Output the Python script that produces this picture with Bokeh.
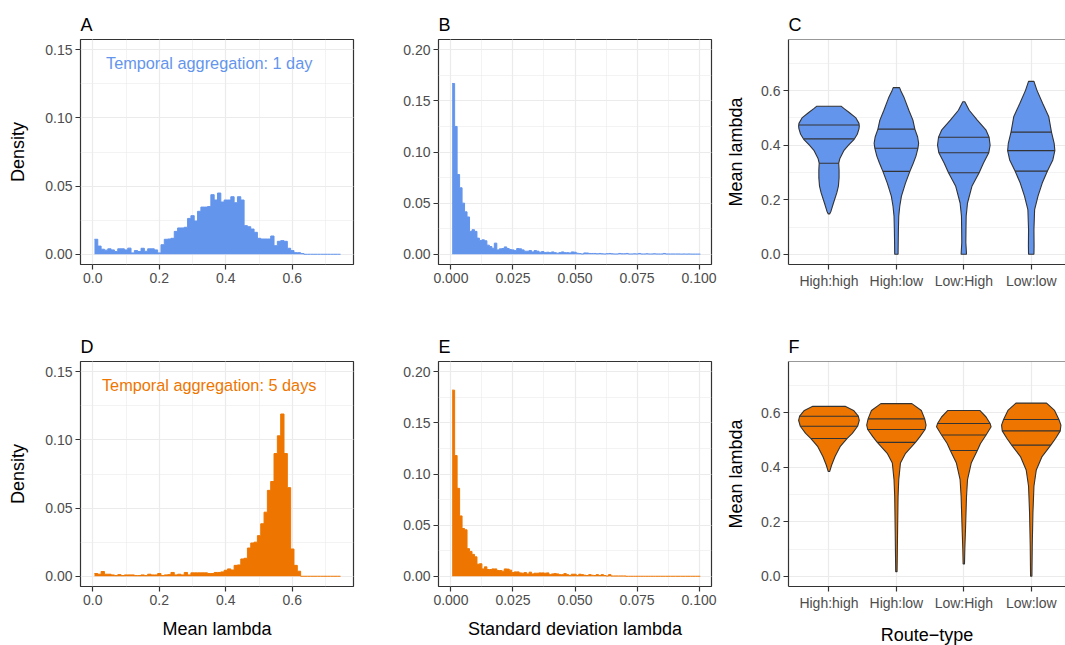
from bokeh.plotting import figure
from bokeh.layouts import column, row
from bokeh.models import (SingleIntervalTicker, FixedTicker, NumeralTickFormatter,
                          Range1d, Span)
from bokeh.embed import file_html
from bokeh.resources import INLINE
from bokeh.core.properties import value

FONT = "Liberation Sans"
BLUE = "#6495ED"
ORANGE = "#EE7600"
DARK = "#333333"

# ---------------- data ----------------
# Mean lambda histograms: bins of width 0.01 starting at 0.005 (centres 0.01 ... 0.74)
MEAN_BIN_START = 0.005
MEAN_BIN_WIDTH = 0.01
mean_density_1day = [
    0.011, 0.006, 0.0037, 0.003, 0.004, 0.0032, 0.002, 0.004, 0.004, 0.0032,
    0.0045, 0.001, 0.0027, 0.002, 0.0044, 0.0022, 0.004, 0.004, 0.0032, 0.001,
    0.007, 0.011, 0.0112, 0.0117, 0.0168, 0.0193, 0.0193, 0.0198, 0.0263, 0.0283,
    0.0244, 0.0315, 0.0346, 0.0346, 0.035, 0.0437, 0.0398, 0.0449, 0.0383, 0.0398,
    0.0398, 0.0422, 0.0378, 0.0422, 0.0398, 0.021, 0.0202, 0.0185, 0.0161, 0.0117,
    0.0112, 0.0112, 0.0112, 0.0134, 0.0063, 0.0095, 0.01, 0.0095, 0.0044, 0.0027,
    0.0012, 0.0012, 0.0005, 0, 0, 0, 0, 0, 0, 0,
    0, 0, 0, 0]
mean_density_5days = [
    0.002, 0.0015, 0.0035, 0.0015, 0.0015, 0.001, 0.0005, 0.0012, 0.0005, 0.001,
    0.001, 0.001, 0.0005, 0.0005, 0.001, 0.0005, 0.0015, 0.001, 0.001, 0.002,
    0.0005, 0.001, 0.0012, 0.0028, 0.001, 0.0015, 0.001, 0.0028, 0.001, 0.0025,
    0.0025, 0.0025, 0.0025, 0.0025, 0.002, 0.002, 0.0028, 0.0028, 0.0032, 0.0044,
    0.0054, 0.0046, 0.008, 0.0083, 0.0127, 0.0132, 0.0207, 0.0244, 0.025, 0.0298,
    0.0385, 0.047, 0.063, 0.0695, 0.09, 0.103, 0.119, 0.09, 0.065, 0.02,
    0.008, 0.0037, 0, 0, 0, 0, 0, 0, 0, 0,
    0, 0, 0, 0]

# Standard deviation lambda histograms: bins of width 0.001 starting at 0.0005
SD_BIN_START = 0.0005
SD_BIN_WIDTH = 0.001
sd_density_1day = [
    0.167, 0.125, 0.078, 0.065, 0.05, 0.0415, 0.0365, 0.0224, 0.024, 0.0224,
    0.0158, 0.0135, 0.0141, 0.0132, 0.0089, 0.0076, 0.0059, 0.0109, 0.0043, 0.0053,
    0.0056, 0.0072, 0.0056, 0.0046, 0.0043, 0.0036, 0.0056, 0.0053, 0.0043, 0.003,
    0.003, 0.0036, 0.0023, 0.0036, 0.003, 0.002, 0.0026, 0.0016, 0.002, 0.0016,
    0.0023, 0.0016, 0.001, 0.0016, 0.0023, 0.0016, 0.0016, 0.0013, 0.0023, 0.002,
    0.001, 0.0007, 0.0003, 0.0013, 0.0012, 0.0008, 0.0008, 0.0008, 0.0005, 0.0008,
    0.0005, 0.0003, 0.0006, 0.0008, 0.0005, 0.0003, 0.0003, 0.0008, 0.0005, 0.0005,
    0.0008, 0.0003, 0.0003, 0.0005, 0.0003, 0.0008, 0.0003, 0.0003, 0.0005, 0.0003,
    0.0003, 0.0005, 0.0003, 0.0003, 0.0003, 0.0008, 0.0003, 0.0003, 0.0003, 0.0003,
    0.0003, 0.0003, 0.0002, 0.0003, 0.0002, 0.0003, 0.0002, 0.0002, 0.0002, 0.0002]
sd_density_5days = [
    0.182, 0.118, 0.086, 0.059, 0.0467, 0.0454, 0.027, 0.0243, 0.0214, 0.019,
    0.0118, 0.0122, 0.0072, 0.0092, 0.0066, 0.0066, 0.0072, 0.0072, 0.0056, 0.0056,
    0.005, 0.0072, 0.007, 0.006, 0.0036, 0.0043, 0.0043, 0.0033, 0.003, 0.0036,
    0.0023, 0.004, 0.0023, 0.003, 0.003, 0.0033, 0.0033, 0.003, 0.0033, 0.0016,
    0.0023, 0.0026, 0.0023, 0.0016, 0.0016, 0.0026, 0.0016, 0.0007, 0.002, 0.002,
    0.0007, 0.002, 0.0016, 0.001, 0.0007, 0.0016, 0.001, 0.0007, 0.0016, 0.0007,
    0.0016, 0.0007, 0.0003, 0.0016, 0.0003, 0.0003, 0.0003, 0.0003, 0.0003, 0.0003,
    0, 0, 0, 0, 0, 0, 0, 0, 0, 0,
    0, 0, 0, 0, 0, 0, 0, 0, 0, 0,
    0, 0, 0, 0, 0, 0, 0, 0, 0, 0]

# Violins: route types, density profiles (y value, half width in category units)
routes = ["High:high", "High:low", "Low:High", "Low:low"]

v1_hh_y = [0.148, 0.158, 0.188, 0.225, 0.25, 0.28, 0.31, 0.334, 0.35, 0.38, 0.40, 0.42, 0.44, 0.46, 0.47, 0.48, 0.50, 0.52, 0.535, 0.543]
v1_hh_w = [0.01, 0.03, 0.067, 0.116, 0.14, 0.15, 0.15, 0.145, 0.16, 0.22, 0.29, 0.37, 0.42, 0.445, 0.45, 0.445, 0.40, 0.30, 0.22, 0.18]
v1_hl_y = [0.0, 0.043, 0.091, 0.14, 0.176, 0.213, 0.261, 0.304, 0.334, 0.36, 0.389, 0.407, 0.43, 0.459, 0.492, 0.528, 0.577, 0.60, 0.611]
v1_hl_w = [0.025, 0.027, 0.03, 0.035, 0.05, 0.075, 0.135, 0.2, 0.25, 0.29, 0.32, 0.33, 0.315, 0.274, 0.245, 0.185, 0.11, 0.065, 0.047]
v1_lh_y = [0.0, 0.043, 0.091, 0.14, 0.188, 0.249, 0.299, 0.334, 0.372, 0.40, 0.429, 0.455, 0.492, 0.528, 0.559]
v1_lh_w = [0.04, 0.03, 0.032, 0.035, 0.055, 0.12, 0.227, 0.29, 0.37, 0.39, 0.375, 0.33, 0.2, 0.08, 0.015]
v1_ll_y = [0.0, 0.03, 0.091, 0.164, 0.213, 0.261, 0.305, 0.346, 0.38, 0.407, 0.448, 0.504, 0.553, 0.601, 0.634]
v1_ll_w = [0.04, 0.042, 0.04, 0.05, 0.1, 0.163, 0.24, 0.32, 0.35, 0.34, 0.30, 0.26, 0.17, 0.085, 0.04]
q1_y = [[0.334, 0.423, 0.474], [0.304, 0.389, 0.459], [0.299, 0.372, 0.429], [0.305, 0.38, 0.448]]
q1_w = [[0.145, 0.37, 0.445], [0.2, 0.32, 0.274], [0.227, 0.37, 0.375], [0.24, 0.35, 0.30]]

v5_hh_y = [0.384, 0.408, 0.439, 0.475, 0.505, 0.524, 0.55, 0.572, 0.587, 0.608, 0.623]
v5_hh_w = [0.01, 0.04, 0.09, 0.165, 0.267, 0.346, 0.425, 0.45, 0.435, 0.365, 0.24]
v5_hl_y = [0.017, 0.172, 0.293, 0.354, 0.415, 0.451, 0.491, 0.512, 0.538, 0.554, 0.577, 0.608, 0.633]
v5_hl_w = [0.01, 0.018, 0.025, 0.035, 0.06, 0.136, 0.283, 0.35, 0.425, 0.44, 0.42, 0.37, 0.23]
v5_lh_y = [0.045, 0.1, 0.172, 0.293, 0.354, 0.415, 0.461, 0.487, 0.518, 0.548, 0.56, 0.584, 0.608]
v5_lh_w = [0.01, 0.015, 0.025, 0.04, 0.055, 0.11, 0.2, 0.247, 0.33, 0.405, 0.39, 0.33, 0.237]
v5_ll_y = [0.0, 0.112, 0.233, 0.33, 0.39, 0.439, 0.481, 0.505, 0.533, 0.554, 0.575, 0.608, 0.635]
v5_ll_w = [0.01, 0.015, 0.025, 0.04, 0.075, 0.16, 0.29, 0.36, 0.43, 0.44, 0.41, 0.346, 0.227]
q5_y = [[0.505, 0.55, 0.587], [0.491, 0.538, 0.577], [0.461, 0.518, 0.56], [0.481, 0.533, 0.575]]
q5_w = [[0.267, 0.425, 0.435], [0.283, 0.425, 0.42], [0.2, 0.33, 0.39], [0.29, 0.43, 0.41]]

# ---------------- helpers ----------------
FRAME_H = 225


def base_fig(letter, fw, mbl, mbr, mbt, mbb, xr, yr):
    p = figure(frame_width=fw, frame_height=FRAME_H,
               min_border_left=mbl, min_border_right=mbr,
               min_border_top=mbt, min_border_bottom=mbb,
               x_range=Range1d(*xr), y_range=Range1d(*yr),
               output_backend="svg", toolbar_location=None, title=letter)
    p.background_fill_color = "white"
    p.border_fill_color = "white"
    p.outline_line_color = DARK
    p.outline_line_width = 1.2
    p.title.text_font = FONT
    p.title.text_font_size = "18px"
    p.title.text_font_style = "normal"
    p.title.text_color = "black"
    p.title.align = "left"
    p.title.standoff = 10
    for ax in p.axis:
        ax.axis_line_color = None
        ax.major_tick_line_color = DARK
        ax.major_tick_line_width = 1.2
        ax.major_tick_out = 5
        ax.major_tick_in = 0
        ax.minor_tick_line_color = None
        ax.major_label_text_font = FONT
        ax.major_label_text_font_size = "14px"
        ax.major_label_text_color = "#4D4D4D"
        ax.major_label_standoff = 3
        ax.axis_label_text_font = FONT
        ax.axis_label_text_font_size = "18px"
        ax.axis_label_text_font_style = "normal"
        ax.axis_label_text_color = "black"
    for g in (p.xgrid[0], p.ygrid[0]):
        g.grid_line_color = "#EBEBEB"
        g.grid_line_width = 1.2
        g.minor_grid_line_color = "#EBEBEB"
        g.minor_grid_line_width = 0.6
    return p


def set_ticks(axis, interval, fmt):
    axis.ticker = SingleIntervalTicker(interval=interval, num_minor_ticks=2)
    axis.formatter = NumeralTickFormatter(format=fmt)


def hist(p, start, width, heights, color):
    # bin edges and a step-shaped filled area (no seams between adjacent bars)
    edges = [start + i * width for i in range(len(heights) + 1)]
    tops = list(heights) + [heights[-1]]
    p.varea_step(x=edges, y1=[0] * len(edges), y2=tops, step_mode="after",
                 fill_color=color)
    p.step(x=edges, y=tops, mode="after", line_color=color, line_width=1.0)


def violin(p, center, ys, ws, qy, qw, color):
    xs = [center + w for w in ws] + [center - w for w in reversed(ws)]
    yy = list(ys) + list(reversed(ys))
    p.patch(xs, yy, fill_color=color, line_color=DARK, line_width=1.1)
    p.segment(x0=[center - w for w in qw], x1=[center + w for w in qw],
              y0=qy, y1=qy, line_color=DARK, line_width=1.1)


def mean_panel(letter, heights, color, label, mbt, mbb, xlabel):
    p = base_fig(letter, 273, 80, 42, mbt, mbb, (-0.037, 0.784), (-0.0075, 0.1575))
    set_ticks(p.xaxis[0], 0.2, "0.0")
    set_ticks(p.yaxis[0], 0.05, "0.00")
    p.yaxis.axis_label = "Density"
    p.yaxis.axis_label_standoff = 14
    if xlabel:
        p.xaxis.axis_label = xlabel
        p.xaxis.axis_label_standoff = 11
    hist(p, MEAN_BIN_START, MEAN_BIN_WIDTH, heights, color)
    p.text(x=[0.35], y=[0.14], text=[label], text_font=value(FONT),
           text_font_size=value("16.3px"), text_align="center",
           text_baseline="middle", text_color=color)
    return p


def sd_panel(letter, heights, color, mbt, mbb, xlabel):
    p = base_fig(letter, 273, 43, 7, mbt, mbb, (-0.005, 0.105), (-0.01, 0.21))
    set_ticks(p.xaxis[0], 0.025, "0.000")
    set_ticks(p.yaxis[0], 0.05, "0.00")
    if xlabel:
        p.xaxis.axis_label = xlabel
        p.xaxis.axis_label_standoff = 11
    hist(p, SD_BIN_START, SD_BIN_WIDTH, heights, color)
    return p


def violin_panel(letter, profiles, qy, qw, color, mbt, mbb, xlabel):
    p = base_fig(letter, 277, 70, 0, mbt, mbb, (0.4, 4.508), (-0.0375, 0.7875))
    p.outline_line_color = None
    p.xaxis.ticker = FixedTicker(ticks=[1, 2, 3, 4], minor_ticks=[])
    p.xaxis.major_label_overrides = {i + 1: r for i, r in enumerate(routes)}
    p.xgrid.ticker = FixedTicker(ticks=[1, 2, 3, 4], minor_ticks=[])
    set_ticks(p.yaxis[0], 0.2, "0.0")
    for ax in p.axis:
        ax.axis_line_color = DARK
        ax.axis_line_width = 1.2
    p.add_layout(Span(location=0.7875, dimension="width", line_color=DARK, line_width=1.2))
    p.yaxis.axis_label = "Mean lambda"
    p.yaxis.axis_label_standoff = 12
    if xlabel:
        p.xaxis.axis_label = xlabel
        p.xaxis.axis_label_standoff = 11
    for i, (ys, ws) in enumerate(profiles):
        violin(p, i + 1, ys, ws, qy[i], qw[i], color)
    return p


pA = mean_panel("A", mean_density_1day, BLUE, "Temporal aggregation: 1 day", 39, 58, None)
pB = sd_panel("B", sd_density_1day, BLUE, 39, 58, None)
pC = violin_panel("C", [(v1_hh_y, v1_hh_w), (v1_hl_y, v1_hl_w), (v1_lh_y, v1_lh_w), (v1_ll_y, v1_ll_w)],
                  q1_y, q1_w, BLUE, 39, 58, None)
pD = mean_panel("D", mean_density_5days, ORANGE, "Temporal aggregation: 5 days", 39, 59, "Mean lambda")
pE = sd_panel("E", sd_density_5days, ORANGE, 39, 59, "Standard deviation lambda")
pF = violin_panel("F", [(v5_hh_y, v5_hh_w), (v5_hl_y, v5_hl_w), (v5_lh_y, v5_lh_w), (v5_ll_y, v5_ll_w)],
                  q5_y, q5_w, ORANGE, 39, 59, "Route\u2212type")

layout = column(row(pA, pB, pC, spacing=0), row(pD, pE, pF, spacing=0), spacing=0)

open("out.html", "w").write(file_html(layout, INLINE))
